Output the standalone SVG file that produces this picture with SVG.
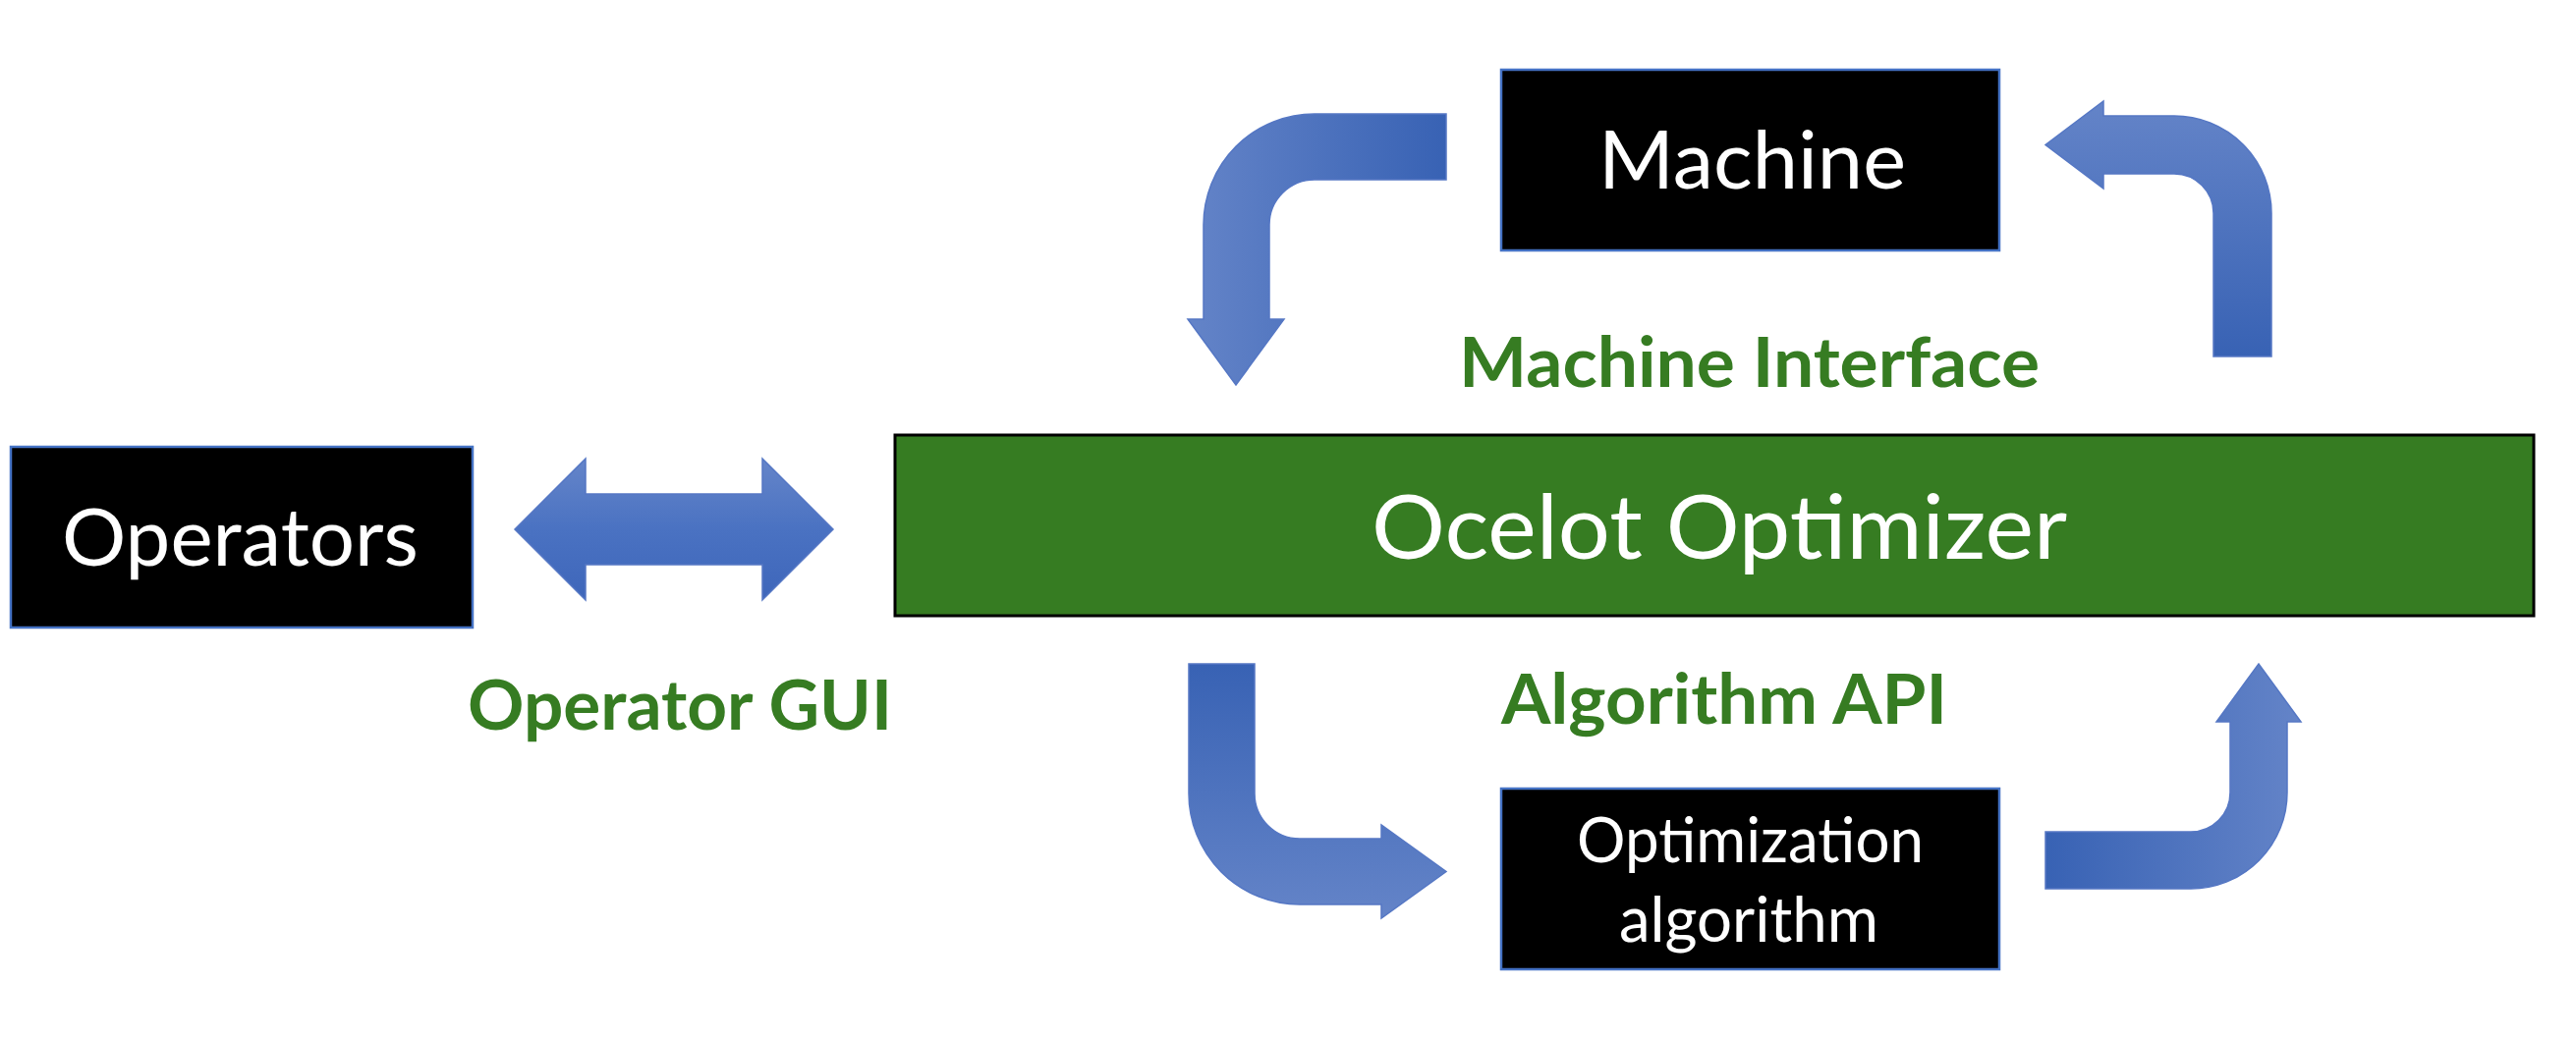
<svg xmlns="http://www.w3.org/2000/svg" width="2622" height="1058" viewBox="0 0 2622 1058">
  <style>
    .box { fill: #000000; stroke: #4472C4; stroke-width: 2.5; }
    .main { fill: #367C22; stroke: #000000; stroke-width: 3; }
    .wt { fill: #FFFFFF; font-family: Lato, "Open Sans", "Liberation Sans", sans-serif; font-weight: 400; }
    .lbl { fill: #367C22; font-family: Lato, "Open Sans", "Liberation Sans", sans-serif; font-weight: 700; font-size: 71px; }
    .arr { stroke: #5577C4; stroke-width: 1.5; stroke-linejoin: miter; }
  </style>
  <defs>
    <linearGradient id="gH_rev" x1="1" y1="0" x2="0" y2="0">
      <stop offset="0" stop-color="#3862B4"/>
      <stop offset="1" stop-color="#6484C8"/>
    </linearGradient>
    <linearGradient id="gH" x1="0" y1="0" x2="1" y2="0">
      <stop offset="0" stop-color="#3862B4"/>
      <stop offset="1" stop-color="#6484C8"/>
    </linearGradient>
    <linearGradient id="gV_up" x1="0" y1="1" x2="0" y2="0">
      <stop offset="0" stop-color="#3862B4"/>
      <stop offset="1" stop-color="#6484C8"/>
    </linearGradient>
    <linearGradient id="gV_down" x1="0" y1="0" x2="0" y2="1">
      <stop offset="0" stop-color="#3862B4"/>
      <stop offset="1" stop-color="#6484C8"/>
    </linearGradient>
    <linearGradient id="gDA" x1="0" y1="0" x2="0" y2="1">
      <stop offset="0" stop-color="#6585C9"/>
      <stop offset="0.5" stop-color="#4A72C2"/>
      <stop offset="1" stop-color="#3E66BA"/>
    </linearGradient>
  </defs>

  <g id="connectors">
    <path id="arrow-operators-gui" class="arr" fill="url(#gDA)" d="M524,539 L596,467 L596,503 L776,503 L776,467 L848,539 L776,611 L776,575 L596,575 L596,611 Z"/>
    <path id="arrow-machine-to-ocelot" class="arr" fill="url(#gH_rev)" d="M1472,116 L1338,116 A113,113 0 0 0 1225,229 L1225,325 L1209,325 L1258,392 L1307,325 L1292,325 L1292,229 A46,46 0 0 1 1338,183 L1472,183 Z"/>
    <path id="arrow-ocelot-to-machine" class="arr" fill="url(#gV_up)" d="M2253,363 L2312,363 L2312,217 A99,99 0 0 0 2213,118 L2141,118 L2141,103 L2082,147.5 L2141,192 L2141,177 L2213,177 A40,40 0 0 1 2253,217 Z"/>
    <path id="arrow-ocelot-to-algorithm" class="arr" fill="url(#gV_down)" d="M1210,676 L1277,676 L1277,808 A46,46 0 0 0 1323,854 L1406,854 L1406,840 L1472,887.5 L1406,935 L1406,921 L1323,921 A113,113 0 0 1 1210,808 Z"/>
    <path id="arrow-algorithm-to-ocelot" class="arr" fill="url(#gH)" d="M2082,847 L2230,847 A40,40 0 0 0 2270,807 L2270,735 L2256,735 L2299,676 L2342,735 L2328,735 L2328,807 A98,98 0 0 1 2230,905 L2082,905 Z"/>
  </g>

  <g id="node-operators">
    <rect class="box" x="11" y="455" width="470" height="184"/>
    <text class="wt" x="63" y="576" font-size="82" textLength="363" lengthAdjust="spacingAndGlyphs">Operators</text>
  </g>

  <g id="node-ocelot">
    <rect class="main" x="911" y="443" width="1668" height="184"/>
    <text class="wt" x="1396" y="569" font-size="92" textLength="708" lengthAdjust="spacingAndGlyphs">Ocelot Optimizer</text>
  </g>

  <g id="node-machine">
    <rect class="box" x="1528" y="71" width="507" height="184"/>
    <text class="wt" x="1627" y="192" font-size="81" textLength="313" lengthAdjust="spacingAndGlyphs">Machine</text>
  </g>

  <g id="node-algorithm">
    <rect class="box" x="1528" y="803" width="507" height="184"/>
    <text class="wt" x="1605" y="878" font-size="63" textLength="353" lengthAdjust="spacingAndGlyphs">Optimization</text>
    <text class="wt" x="1648" y="959" font-size="63" textLength="264" lengthAdjust="spacingAndGlyphs">algorithm</text>
  </g>

  <g id="labels">
    <text class="lbl" x="476" y="743" textLength="432" lengthAdjust="spacingAndGlyphs">Operator GUI</text>
    <text class="lbl" x="1485" y="394" textLength="591" lengthAdjust="spacingAndGlyphs">Machine Interface</text>
    <text class="lbl" x="1528" y="737" textLength="454" lengthAdjust="spacingAndGlyphs">Algorithm API</text>
  </g>
</svg>
